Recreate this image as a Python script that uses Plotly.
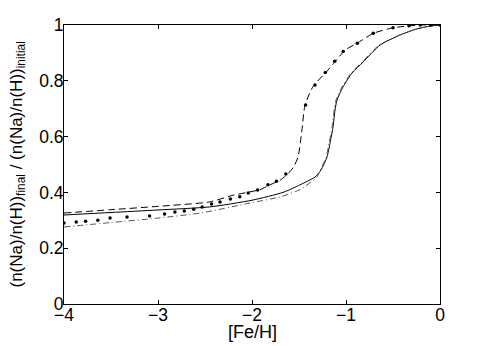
import plotly.graph_objects as go

# Solid curve
solid_x = [-4.0, -3.5, -3.0, -2.45, -2.0, -1.67, -1.49, -1.33, -1.277, -1.255, -1.202, -1.17, -1.138, -1.117, -1.096, -1.032, -0.936, -0.819, -0.638, -0.426, -0.245, -0.106, 0.0]
solid_y = [0.319, 0.328, 0.337, 0.348, 0.372, 0.40, 0.427, 0.455, 0.475, 0.487, 0.527, 0.577, 0.634, 0.695, 0.731, 0.778, 0.828, 0.867, 0.928, 0.964, 0.986, 0.996, 1.0]

# Dashed curve
dash_x = [-4.0, -3.5, -3.0, -2.45, -2.2, -1.915, -1.81, -1.70, -1.62, -1.56, -1.51, -1.47, -1.436, -1.35, -1.20, -1.10, -1.01, -0.88, -0.71, -0.50, -0.21, 0.0]
dash_y = [0.326, 0.338, 0.35, 0.366, 0.39, 0.41, 0.427, 0.444, 0.466, 0.49, 0.527, 0.62, 0.713, 0.78, 0.835, 0.875, 0.91, 0.935, 0.97, 0.99, 1.0, 1.0]

# Dotted (marker) curve
dot_x = [-4.0, -3.87, -3.77, -3.64, -3.51, -3.33, -3.09, -2.93, -2.82, -2.72, -2.62, -2.53, -2.43, -2.34, -2.23, -2.13, -2.04, -1.94, -1.83, -1.74, -1.64, -1.43, -1.33, -1.22, -1.12, -1.03, -0.88, -0.71, -0.50, -0.33, -0.21, -0.10, 0.0]
dot_y = [0.29, 0.294, 0.297, 0.30, 0.308, 0.312, 0.315, 0.323, 0.33, 0.333, 0.34, 0.348, 0.358, 0.366, 0.376, 0.384, 0.398, 0.409, 0.427, 0.44, 0.466, 0.713, 0.785, 0.83, 0.87, 0.905, 0.935, 0.97, 0.99, 0.997, 1.0, 1.0, 1.0]

# Dash-dot curve
dd_x = [-4.0, -3.5, -3.0, -2.55, -2.02, -1.70, -1.49, -1.31, -1.265, -1.21, -1.18, -1.148, -1.127, -1.106, -1.042, -0.946, -0.829, -0.648, -0.43, -0.25, -0.11, 0.0]
dd_y = [0.276, 0.292, 0.308, 0.326, 0.362, 0.384, 0.41, 0.455, 0.487, 0.527, 0.577, 0.634, 0.695, 0.731, 0.778, 0.828, 0.867, 0.928, 0.964, 0.986, 0.996, 1.0]

x_ticks = [-4, -3, -2, -1, 0]
y_ticks = [0, 0.2, 0.4, 0.6, 0.8, 1]
y_tick_text = ["0", "0.2", "0.4", "0.6", "0.8", "1"]

x_title = "[Fe/H]"
y_title = "(n(Na)/n(H))<sub>final</sub> / (n(Na)/n(H))<sub>initial</sub>"

fig = go.Figure()
fig.add_trace(go.Scatter(x=solid_x, y=solid_y, mode="lines", line=dict(color="black", width=1, shape="spline", smoothing=0.6)))
fig.add_trace(go.Scatter(x=dd_x, y=dd_y, mode="lines", line=dict(color="#555555", width=1, dash="6px,3px,1px,3px", shape="spline", smoothing=0.6)))
fig.add_trace(go.Scatter(x=dash_x, y=dash_y, mode="lines", line=dict(color="black", width=1, dash="7px,4px", shape="spline", smoothing=0.6)))
fig.add_trace(go.Scatter(x=dot_x, y=dot_y, mode="markers", marker=dict(color="black", size=3.5)))

fam = "Liberation Sans, Arial, sans-serif"
tickfont = dict(family=fam, size=17.5, color="black")
fig.update_layout(
    width=477, height=338,
    margin=dict(l=56, r=45, t=17, b=42, autoexpand=False),
    plot_bgcolor="white", paper_bgcolor="white",
    showlegend=False,
    font=dict(family=fam, size=17, color="black"),
    xaxis=dict(range=[-4, 0], tickvals=x_ticks, ticks="inside", ticklen=4, tickcolor="black", tickfont=tickfont,
               showline=True, linecolor="black", linewidth=1, mirror="ticks", showgrid=False, zeroline=False,
               automargin=False, ticklabelstandoff=-5),
    yaxis=dict(range=[0, 1], tickvals=y_ticks, ticktext=y_tick_text, ticks="inside", ticklen=4, tickcolor="black", tickfont=tickfont,
               showline=True, linecolor="black", linewidth=1, mirror="ticks", showgrid=False, zeroline=False,
               automargin=False, ticklabelstandoff=-4),
    annotations=[
        dict(text=x_title, xref="paper", yref="paper", x=0.5, y=0, xanchor="center", yanchor="middle",
             yshift=-28, showarrow=False, font=dict(family=fam, size=18, color="black")),
        dict(text=y_title, xref="paper", yref="paper", x=0, y=0.5, xanchor="center", yanchor="middle",
             xshift=-47, textangle=-90, showarrow=False, font=dict(family=fam, size=17, color="black")),
    ],
)
fig.write_html("out.html")
